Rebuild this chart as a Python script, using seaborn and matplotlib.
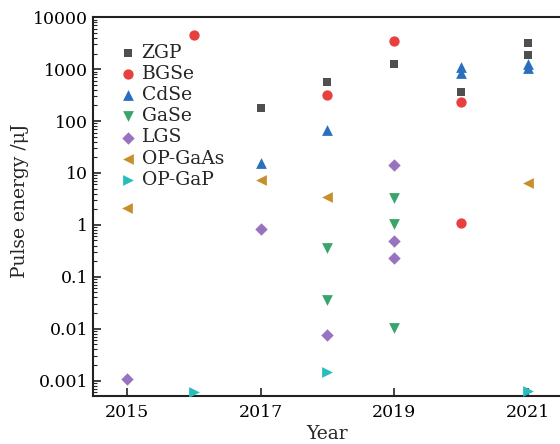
import numpy as np
import pandas as pd
import matplotlib
matplotlib.use("Agg")
import matplotlib.pyplot as plt
import seaborn as sns
from matplotlib.ticker import LogLocator, FixedLocator, FixedFormatter, NullFormatter

# ---- data ----
zgp_year = [2017, 2018, 2019, 2020, 2021, 2021]
zgp_val = [178, 577, 1260, 360, 3200, 1840]

bgse_year = [2016, 2018, 2019, 2020, 2020]
bgse_val = [4630, 316, 3540, 231, 1.07]

cdse_year = [2017, 2018, 2020, 2020, 2021, 2021]
cdse_val = [15.3, 68, 1110, 850, 1250, 1050]

gase_year = [2018, 2018, 2019, 2019, 2019]
gase_val = [0.351, 0.0362, 3.3, 1.05, 0.0103]

lgs_year = [2015, 2017, 2018, 2019, 2019, 2019]
lgs_val = [0.00107, 0.82, 0.0076, 14.3, 0.49, 0.225]

opgaas_year = [2015, 2017, 2018, 2021]
opgaas_val = [2.08, 7.26, 3.4, 6.3]

opgap_year = [2016, 2018, 2021]
opgap_val = [0.00059, 0.00145, 0.00063]

materials = ["ZGP", "BGSe", "CdSe", "GaSe", "LGS", "OP-GaAs", "OP-GaP"]
series = [(zgp_year, zgp_val), (bgse_year, bgse_val), (cdse_year, cdse_val),
          (gase_year, gase_val), (lgs_year, lgs_val), (opgaas_year, opgaas_val),
          (opgap_year, opgap_val)]

x_ticks = [2015, 2017, 2019, 2021]
y_ticks = [0.001, 0.01, 0.1, 1, 10, 100, 1000, 10000]
y_tick_labels = ["0.001", "0.01", "0.1", "1", "10", "100", "1000", "10000"]

rows = []
for m, (yrs, vals) in zip(materials, series):
    for yr, v in zip(yrs, vals):
        rows.append({"Year": yr, "Energy": v, "Material": m})
df = pd.DataFrame(rows)

colors = {"ZGP": "#4f4f4f", "BGSe": "#e8403f", "CdSe": "#2a6ebf",
          "GaSe": "#3aa56b", "LGS": "#9773c0", "OP-GaAs": "#c8902c",
          "OP-GaP": "#27bdbd"}
markers = {"ZGP": "s", "BGSe": "o", "CdSe": "^", "GaSe": "v",
           "LGS": "D", "OP-GaAs": "<", "OP-GaP": ">"}
sizes = {"ZGP": 36, "BGSe": 55, "CdSe": 60, "GaSe": 60, "LGS": 40,
         "OP-GaAs": 60, "OP-GaP": 60}

sns.set_theme(style="ticks")
plt.rcParams["font.family"] = ["DejaVu Serif"]
plt.rcParams["mathtext.fontset"] = "dejavuserif"

fig = plt.figure(figsize=(5.6, 4.44), dpi=100)
ax = fig.add_axes([0.1666, 0.1088, 0.8334, 0.8522])

for m in materials:
    sub = df[df["Material"] == m]
    sns.scatterplot(data=sub, x="Year", y="Energy", ax=ax, color=colors[m],
                    marker=markers[m], s=sizes[m], linewidth=0, label=m,
                    clip_on=True, zorder=3)

ax.set_yscale("log")
ax.set_xlim(2014.5, 2021.476)
ax.set_ylim(0.00051, 10000)

ax.xaxis.set_major_locator(FixedLocator(x_ticks))
ax.set_xticklabels([str(t) for t in x_ticks])
ax.yaxis.set_major_locator(FixedLocator(y_ticks))
ax.yaxis.set_major_formatter(FixedFormatter(y_tick_labels))
ax.yaxis.set_minor_locator(LogLocator(base=10, subs=np.arange(2, 10), numticks=20))
ax.yaxis.set_minor_formatter(NullFormatter())

ax.tick_params(axis="both", which="major", direction="in", length=6, width=1.2,
               labelsize=12.5, colors="#222222", labelcolor="black")
ax.tick_params(axis="x", which="major", pad=6)
ax.tick_params(axis="y", which="minor", direction="in", length=3, width=0.8)
ax.tick_params(axis="x", which="minor", bottom=False)

for side in ["left", "bottom", "top"]:
    ax.spines[side].set_linewidth(1.5)
    ax.spines[side].set_color("#222222")
ax.spines["right"].set_visible(False)

ax.set_xlabel("Year", fontsize=13.5)
ax.set_ylabel("Pulse energy /μJ", fontsize=13.5)
ax.xaxis.set_label_coords(0.5, -0.078)
ax.yaxis.set_label_coords(-0.138, 0.515)

leg = ax.legend(loc="upper left", bbox_to_anchor=(0.035, 0.95), frameon=False,
                fontsize=13.5, handletextpad=0.1, labelspacing=0.17,
                borderaxespad=0.0, handlelength=1.2)

fig.savefig("out.png", dpi=100)
